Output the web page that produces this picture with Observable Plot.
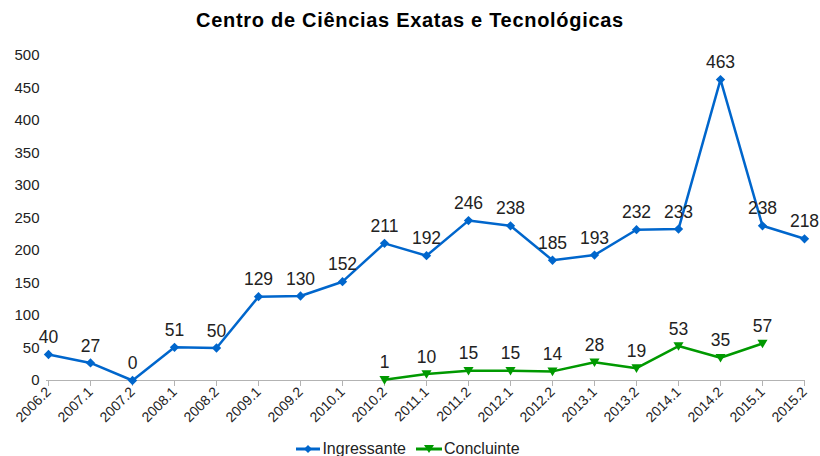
<!DOCTYPE html>
<html><head><meta charset="utf-8">
<script src="https://cdn.jsdelivr.net/npm/d3@7"></script>
<script src="https://cdn.jsdelivr.net/npm/@observablehq/plot@0.6"></script>
<style>
body{margin:0;background:#fff;font-family:"Liberation Sans",Arial,sans-serif;}
#wrap{position:relative;width:820px;height:456px;overflow:hidden;}
#chart{position:absolute;left:0;top:0;}
#title{position:absolute;top:9px;left:0;width:820px;text-align:center;font-weight:bold;font-size:20px;letter-spacing:0.7px;color:#000;}
#legend{position:absolute;top:439px;left:0;width:816px;text-align:center;font-size:16px;color:#222;white-space:nowrap;line-height:20px;}
#legend span{display:inline-flex;align-items:center;margin:0 5px;}
#legend svg{margin-right:2px;}
</style>
</head><body>
<div id="wrap">
  <div id="chart"></div>
  <div id="title">Centro de Ciências Exatas e Tecnológicas</div>
  <div id="legend"></div>
</div>
<script>
const semesters = ["2006.2","2007.1","2007.2","2008.1","2008.2","2009.1","2009.2","2010.1","2010.2","2011.1","2011.2","2012.1","2012.2","2013.1","2013.2","2014.1","2014.2","2015.1","2015.2"];
const ingressante = [40,27,0,51,50,129,130,152,211,192,246,238,185,193,232,233,463,238,218];
const concluinte = [null,null,null,null,null,null,null,null,1,10,15,15,14,28,19,53,35,57,null];
const yTicks = [0,50,100,150,200,250,300,350,400,450,500];
const seriesNames = ["Ingressante","Concluinte"];
const colors = ["#0066cc","#009900"];

const downTriangle = {
  draw(ctx, size) {
    const h = Math.sqrt(size) * 0.62;
    ctx.moveTo(-h, -h * 0.75);
    ctx.lineTo(h, -h * 0.75);
    ctx.lineTo(0, h * 0.95);
    ctx.closePath();
  }
};

const ing = semesters.map((s, i) => ({s, v: ingressante[i]}));
const con = semesters.map((s, i) => ({s, v: concluinte[i]})).filter(d => d.v != null);

const chart = Plot.plot({
  width: 820,
  height: 456,
  marginLeft: 46,
  marginRight: 15,
  marginTop: 55,
  marginBottom: 76,
  style: {fontFamily: "Liberation Sans, Arial, sans-serif", fontSize: "14px", background: "#fff"},
  x: {type: "point", domain: semesters, padding: 0},
  y: {domain: [0, 500]},
  marks: [
    Plot.axisY({ticks: yTicks, tickSize: 0, tickPadding: 7, label: null, fill: "#222", fontSize: 15}),
    Plot.axisX({tickRotate: -45, tickSize: 6, tickPadding: 3, label: null, stroke: "#b3b3b3", fill: "#222", fontSize: 14}),
    Plot.ruleY([0], {stroke: "#b3b3b3", strokeWidth: 1}),
    Plot.line(ing, {x: "s", y: "v", stroke: colors[0], strokeWidth: 2.5}),
    Plot.dot(ing, {x: "s", y: "v", symbol: "diamond2", r: 4.2, fill: colors[0], stroke: "none"}),
    Plot.line(con, {x: "s", y: "v", stroke: colors[1], strokeWidth: 2.5}),
    Plot.dot(con, {x: "s", y: "v", symbol: downTriangle, r: 4.6, fill: colors[1], stroke: "none"}),
    Plot.text(ing, {x: "s", y: "v", text: d => String(d.v), dy: -17, fontSize: 17.5, fill: "#222"}),
    Plot.text(con, {x: "s", y: "v", text: d => String(d.v), dy: -17, fontSize: 17.5, fill: "#222"})
  ]
});
document.getElementById("chart").appendChild(chart);

const legend = document.getElementById("legend");
seriesNames.forEach((name, i) => {
  const span = document.createElement("span");
  const mk = i === 0
    ? `<path d="M12 -4 L16 0 L12 4 L8 0 Z" fill="${colors[0]}"/>`
    : `<path d="M8 -4 L18 -4 L13 4 Z" fill="${colors[1]}"/>`;
  const w = i === 0 ? 24 : 26;
  span.innerHTML = `<svg width="${w}" height="12" viewBox="0 -6 ${w} 12"><line x1="0" x2="${w}" y1="0" y2="0" stroke="${colors[i]}" stroke-width="3"/>${mk}</svg>${name}`;
  legend.appendChild(span);
});
</script>
</body></html>
